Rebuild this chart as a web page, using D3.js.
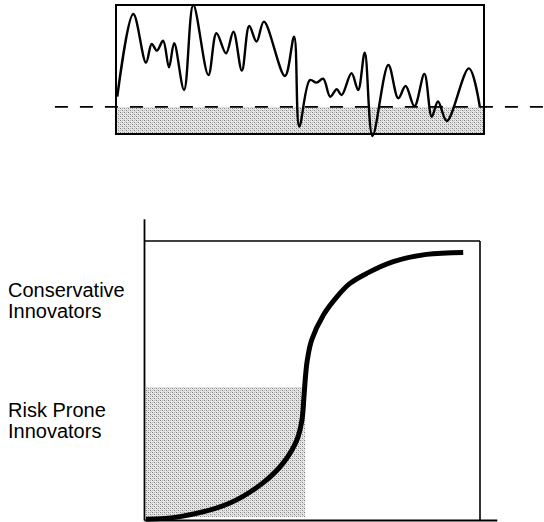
<!DOCTYPE html>
<html>
<head>
<meta charset="utf-8">
<script src="https://cdn.jsdelivr.net/npm/d3@7"></script>
<style>
  html, body { margin: 0; padding: 0; background: #fff; }
  svg { display: block; }
  text { font-family: "Liberation Sans", Arial, sans-serif; fill: #000; }
</style>
</head>
<body>
<svg id="chart" width="544" height="522"></svg>
<script>
// ---- Data (top panel: fluctuating performance series) ----
const topTime = [0.35, 4.7, 8.15, 9.7, 11.1, 12.8, 14.4, 15.8, 18.5, 21.0,
  25.1, 27.3, 29.9, 31.9, 34.2, 36.2, 38.2, 40.2, 45.9, 48.4,
  49.8, 52.7, 54.5, 56.3, 58.2, 60.0, 61.3, 64.0, 65.8, 67.6,
  69.7, 74.0, 76.7, 78.7, 81.1, 83.8, 85.8, 87.5, 89.9, 95.9, 98.9];
const topValue = [28.9, 93.0, 55.3, 69.8, 64.6, 72.3, 51.7, 70.3, 34.1, 100,
  45.7, 78.1, 62.6, 79.3, 49.1, 83.7, 71.6, 87.1, 45.0, 75.4,
  5.7, 41.9, 39.8, 42.9, 28.9, 34.7, 30.2, 47.1, 34.1, 63.0,
  -1.5, 53.5, 27.7, 37.2, 21.5, 46.5, 13.4, 25.2, 10.1, 50.9, 20.5];
const threshold = 21;

// ---- Data (bottom panel: S-shaped adoption curve) ----
const curveX = [0.6, 10.7, 25.6, 35.4, 41.4, 45.5, 47.0, 47.6, 48.1, 48.6,
  49.9, 53.4, 57.4, 61.3, 66.3, 74.2, 84.1, 95.0];
const curveY = [0.3, 1.2, 6.1, 13.3, 20.4, 28.7, 35.8, 44.1, 52.0, 57.3,
  64.5, 73.5, 80.0, 84.8, 88.4, 92.6, 95.2, 95.9];
const shadeX = [0, 48];
const shadeY = [0, 47.7];
const labels = [["Conservative", "Innovators"], ["Risk Prone", "Innovators"]];
const labelLevels = [80, 37];

const svg = d3.select("#chart");

// stipple pattern
const defs = svg.append("defs");
const pat = defs.append("pattern").attr("id", "stip")
  .attr("patternUnits", "userSpaceOnUse").attr("width", 4).attr("height", 4);
pat.append("rect").attr("width", 4).attr("height", 4).attr("fill", "#e8e8e8");
[[0,0,"#808080"],[2,2,"#808080"],[2,0,"#b0b0b0"],[0,2,"#b8b8b8"],[1,1,"#d0d0d0"],[3,3,"#cccccc"]]
  .forEach(([x,y,c]) => pat.append("rect").attr("x", x).attr("y", y)
    .attr("width", 1).attr("height", 1).attr("fill", c));

// ---- Top panel ----
const xT = d3.scaleLinear().domain([0, 100]).range([116, 484]);
const yT = d3.scaleLinear().domain([0, 100]).range([134, 5]);

svg.append("rect")
  .attr("x", xT(0)).attr("y", yT(threshold))
  .attr("width", xT(100) - xT(0)).attr("height", yT(0) - yT(threshold))
  .attr("fill", "url(#stip)");

const topData = topTime.map((t, i) => [t, topValue[i]]);
svg.append("path")
  .datum(topData)
  .attr("fill", "none").attr("stroke", "#000").attr("stroke-width", 2.4)
  .attr("stroke-linejoin", "round")
  .attr("d", d3.line().x(d => xT(d[0])).y(d => yT(d[1])).curve(d3.curveCatmullRom.alpha(0.5)));

svg.append("rect")
  .attr("x", xT(0)).attr("y", yT(100))
  .attr("width", xT(100) - xT(0)).attr("height", yT(0) - yT(100))
  .attr("fill", "none").attr("stroke", "#000").attr("stroke-width", 2);

svg.append("line")
  .attr("x1", xT(-16.6)).attr("x2", 544)
  .attr("y1", yT(threshold)).attr("y2", yT(threshold))
  .attr("stroke", "#000").attr("stroke-width", 1.8)
  .attr("stroke-dasharray", "13,12");

// ---- Bottom panel ----
const xB = d3.scaleLinear().domain([0, 100]).range([144, 480]);
const yB = d3.scaleLinear().domain([0, 100]).range([520, 241]);

svg.append("rect")
  .attr("x", xB(shadeX[0]) + 2).attr("y", yB(shadeY[1]))
  .attr("width", xB(shadeX[1]) - xB(shadeX[0]) - 2).attr("height", yB(shadeY[0]) - yB(shadeY[1]) - 3)
  .attr("fill", "url(#stip)");

// frame: top and right
svg.append("line").attr("x1", xB(0)).attr("x2", xB(100))
  .attr("y1", yB(100)).attr("y2", yB(100)).attr("stroke", "#000").attr("stroke-width", 1.6);
svg.append("line").attr("x1", xB(100)).attr("x2", xB(100))
  .attr("y1", yB(100)).attr("y2", yB(0)).attr("stroke", "#000").attr("stroke-width", 1.6);

// axes (no ticks)
const yAxisScale = d3.scaleLinear().domain([0, 108]).range([yB(0), yB(108)]);
svg.append("g").attr("transform", `translate(${xB(0)},0)`)
  .call(d3.axisLeft(yAxisScale).tickValues([]).tickSizeOuter(0))
  .select(".domain").attr("stroke-width", 1.8);
const xAxisScale = d3.scaleLinear().domain([0, 105]).range([xB(0), xB(105)]);
svg.append("g").attr("transform", `translate(0,${yB(0)})`)
  .call(d3.axisBottom(xAxisScale).tickValues([]).tickSizeOuter(0))
  .select(".domain").attr("stroke-width", 2);

const curveData = curveX.map((x, i) => [x, curveY[i]]);
svg.append("path")
  .datum(curveData)
  .attr("fill", "none").attr("stroke", "#000").attr("stroke-width", 5)
  .attr("d", d3.line().x(d => xB(d[0])).y(d => yB(d[1])).curve(d3.curveCatmullRom.alpha(0.5)));

// labels
labels.forEach((lines, i) => {
  const t = svg.append("text").attr("x", 8).attr("y", yB(labelLevels[i]))
    .attr("font-size", 20);
  lines.forEach((l, j) => t.append("tspan").attr("x", 8).attr("dy", j === 0 ? 0 : 21).text(l));
});
</script>
</body>
</html>
